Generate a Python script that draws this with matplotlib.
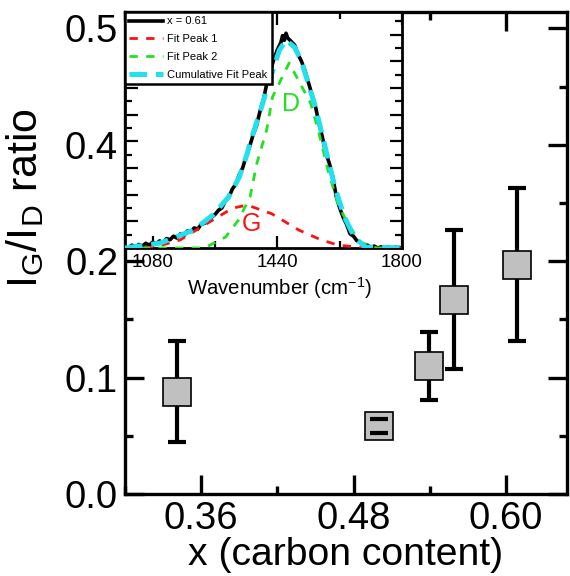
import matplotlib
matplotlib.use("Agg")
import matplotlib.pyplot as plt
from matplotlib.ticker import MultipleLocator, FixedLocator, FixedFormatter

plt.rcParams['font.family'] = ['Liberation Sans', 'DejaVu Sans']
plt.rcParams['mathtext.fontset'] = 'custom'
plt.rcParams['mathtext.rm'] = 'Liberation Sans'
plt.rcParams['mathtext.it'] = 'Liberation Sans'

# ---- main data ----
x_carbon = [0.341, 0.500, 0.539, 0.559, 0.609]
ratio = [0.088, 0.058, 0.110, 0.167, 0.197]
ratio_err = [0.043, 0.006, 0.029, 0.060, 0.066]
ytick_pos = [0.0, 0.1, 0.2, 0.3, 0.4]
ytick_labels = ['0.0', '0.1', '0.2', '0.4', '0.5']
xtick_pos = [0.36, 0.48, 0.60]
xtick_labels = ['0.36', '0.48', '0.60']

# ---- inset data ----
wn_raw = [1000, 1010, 1020, 1030, 1040, 1050, 1060, 1070, 1080, 1090, 1100, 1110,
          1120, 1130, 1140, 1150, 1160, 1170, 1180, 1190, 1200, 1210, 1220, 1230,
          1240, 1250, 1260, 1270, 1280, 1290, 1300, 1310, 1320, 1330, 1340, 1350,
          1360, 1370, 1380, 1390, 1400, 1410, 1420, 1430, 1440, 1450, 1455, 1460,
          1465, 1470, 1480, 1490, 1500, 1510, 1520, 1530, 1540, 1550, 1560, 1570,
          1580, 1590, 1600, 1610, 1620, 1630, 1640, 1650, 1660, 1670, 1680, 1690,
          1700, 1710, 1720, 1730, 1740, 1750, 1760, 1770, 1780, 1790, 1800]
int_raw = [0.005, 0.0, 0.012, 0.004, 0.015, 0.008, 0.02, 0.012, 0.025, 0.018, 0.03, 0.022,
           0.04, 0.035, 0.05, 0.042, 0.06, 0.052, 0.072, 0.07, 0.085, 0.08, 0.1, 0.105,
           0.12, 0.13, 0.142, 0.16, 0.17, 0.2, 0.215, 0.25, 0.27, 0.31, 0.34, 0.39,
           0.43, 0.48, 0.52, 0.58, 0.63, 0.70, 0.75, 0.80, 0.84, 0.87, 0.90, 0.88,
           0.91, 0.89, 0.875, 0.86, 0.82, 0.79, 0.75, 0.70, 0.65, 0.60, 0.53, 0.47,
           0.40, 0.36, 0.30, 0.22, 0.17, 0.13, 0.10, 0.06, 0.05, 0.03, 0.025, 0.01,
           0.012, 0.003, 0.008, 0.0, 0.005, 0.0, 0.004, 0.0, 0.003, 0.002, 0.0]
wn_p1 = [1010, 1086, 1159, 1254, 1311, 1353, 1424, 1502, 1567, 1614, 1690, 1800]
int_p1 = [0.0, 0.004, 0.034, 0.119, 0.169, 0.182, 0.145, 0.076, 0.034, 0.013, 0.0, 0.0]
wn_p2 = [1000, 1221, 1235, 1291, 1328, 1361, 1381, 1389, 1409, 1426, 1474, 1536,
         1558, 1586, 1614, 1642, 1679, 1727, 1800]
int_p2 = [0.0, 0.0, 0.004, 0.047, 0.119, 0.216, 0.36, 0.40, 0.50, 0.64, 0.784, 0.614,
          0.50, 0.331, 0.191, 0.106, 0.025, 0.0, 0.0]
wn_cum = [1000, 1102, 1198, 1254, 1299, 1330, 1353, 1361, 1389, 1418, 1446, 1465,
          1490, 1510, 1550, 1578, 1606, 1634, 1662, 1693, 1800]
int_cum = [0.0, 0.021, 0.076, 0.14, 0.216, 0.30, 0.40, 0.445, 0.572, 0.712, 0.839, 0.881,
           0.85, 0.79, 0.597, 0.428, 0.258, 0.131, 0.047, 0.004, 0.0]
inset_xticks = [1080, 1440, 1800]

fig = plt.figure(figsize=(5.7, 5.76), dpi=100)
ax = fig.add_axes([125/570, 1-494/576, (567-125)/570, (494-12)/576])

eb = ax.errorbar(x_carbon, ratio, yerr=ratio_err, fmt='none', ecolor='black',
                 elinewidth=3.0, capsize=6.8, capthick=3.0, zorder=2)
for cl in eb[1]:
    cl.set_zorder(4)
ax.plot(x_carbon, ratio, linestyle='none', marker='s', markersize=20,
        markerfacecolor='#c0c0c0', markeredgecolor='black', markeredgewidth=1.2, zorder=3)

ax.set_xlim(0.30, 0.648)
ax.set_ylim(0.0, 0.414)
ax.xaxis.set_major_locator(FixedLocator(xtick_pos))
ax.xaxis.set_major_formatter(FixedFormatter(xtick_labels))
ax.xaxis.set_minor_locator(MultipleLocator(0.06))
ax.yaxis.set_major_locator(FixedLocator(ytick_pos))
ax.yaxis.set_major_formatter(FixedFormatter(ytick_labels))
ax.yaxis.set_minor_locator(MultipleLocator(0.05))
ax.tick_params(which='both', direction='in', top=True, right=True, width=2.4)
ax.tick_params(which='major', length=13.5, labelsize=27.5, pad=5)
ax.tick_params(which='minor', length=5.5)
for s in ax.spines.values():
    s.set_linewidth(2.4)
ax.set_xlabel('x (carbon content)', fontsize=28.2, labelpad=0)
ax.set_ylabel(r'I$_\mathrm{G}$/I$_\mathrm{D}$ ratio', fontsize=31)
ax.yaxis.set_label_coords(-0.178, 0.615)

# ---- inset ----
ins = fig.add_axes([125/570, 1-248/576, (402-125)/570, (248-12)/576])
ins.plot(wn_raw, int_raw, color='black', lw=2.6, label='x = 0.61', zorder=2)
ins.plot(wn_p1, int_p1, color='#ff1010', lw=2.0, ls=(0, (3, 3)), label='Fit Peak 1', zorder=3)
ins.plot(wn_p2, int_p2, color='#22e022', lw=2.0, ls=(0, (3, 3)), label='Fit Peak 2', zorder=3)
ins.plot(wn_cum, int_cum, color='#22e0ee', lw=3.6, ls=(0, (3.5, 1.8)), label='Cumulative Fit Peak', zorder=4)
ins.text(1479, 0.61, 'D', color='#22e022', fontsize=18, ha='center', va='center')
ins.text(1364, 0.10, 'G', color='#ff1010', fontsize=18, ha='center', va='center')
ins.set_xlim(1000, 1800)
ins.set_ylim(0, 1.0)
ins.xaxis.set_major_locator(FixedLocator(inset_xticks))
ins.xaxis.set_minor_locator(MultipleLocator(180))
ins.yaxis.set_major_locator(MultipleLocator(0.113))
ins.yaxis.set_minor_locator(MultipleLocator(0.0565))
ins.tick_params(which='both', direction='in', top=True, right=True, width=1.6)
ins.tick_params(which='major', length=9, labelsize=13.5, pad=4)
ins.tick_params(which='minor', length=5)
ins.tick_params(axis='y', labelleft=False)
for s in ins.spines.values():
    s.set_linewidth(2.0)
ins.set_xlabel('Wavenumber (cm$^{-1}$)', fontsize=14.7)
ins.xaxis.set_label_coords(0.56, -0.115)
leg = ins.legend(loc='upper left', fontsize=8, frameon=True, fancybox=False,
                 edgecolor='black', framealpha=1, borderaxespad=0, handlelength=3.0,
                 handletextpad=0.4, borderpad=0.4, labelspacing=0.7)
leg.get_frame().set_linewidth(1.8)

fig.savefig('out.png', dpi=100)
